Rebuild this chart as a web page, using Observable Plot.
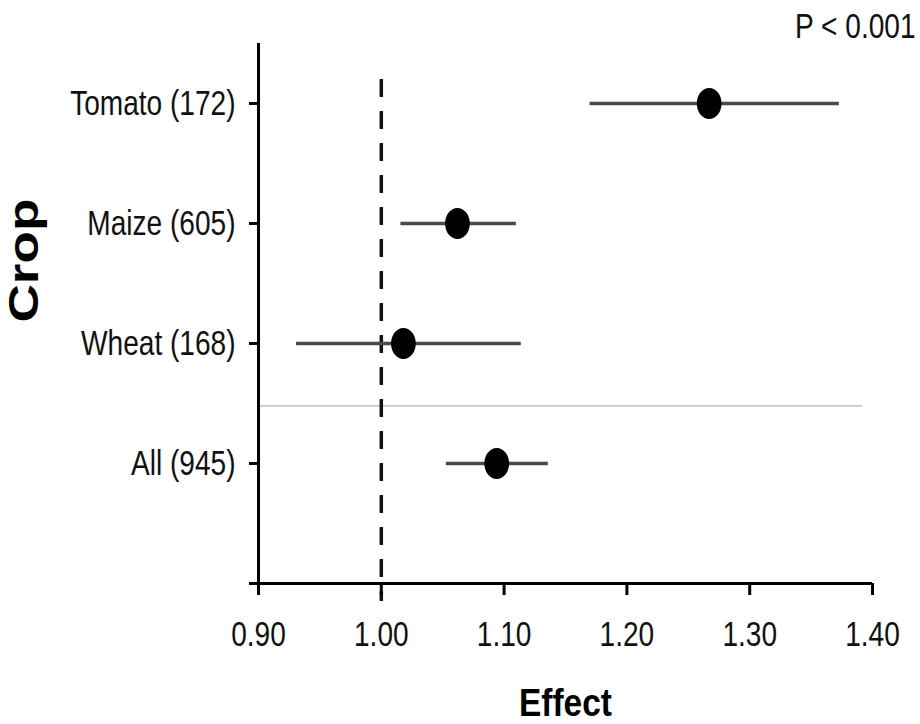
<!DOCTYPE html>
<html>
<head>
<meta charset="utf-8">
<script src="https://cdn.jsdelivr.net/npm/d3@7"></script>
<script src="https://cdn.jsdelivr.net/npm/@observablehq/plot@0.6"></script>
<style>
  html, body { margin: 0; padding: 0; background: #fff; }
  #chart svg { display: block; }
</style>
</head>
<body>
<div id="chart"></div>
<script>
// ---- data ----
const crops  = ["Tomato (172)", "Maize (605)", "Wheat (168)", "All (945)"];
const effect = [1.267, 1.062, 1.018, 1.094];
const lower  = [1.170, 1.016, 0.931, 1.053];
const upper  = [1.373, 1.110, 1.114, 1.136];
const xTicks = [0.90, 1.00, 1.10, 1.20, 1.30, 1.40];
const pLabel = "P < 0.001";
const xTitle = "Effect";
const yTitle = "Crop";

// rows: top crop gets highest slot; slot 0 is the empty bottom slot
const rows = crops.map((c, i) => ({
  crop: c, slot: crops.length - i,
  effect: effect[i], lower: lower[i], upper: upper[i]
}));
const yTicks = d3.range(0, crops.length + 1);
const yLabel = new Map(rows.map(d => [d.slot, d.crop]));

// ellipse symbol (slightly taller than wide)
const ellipse = {
  draw(ctx, size) {
    const ry = Math.sqrt(size / Math.PI), rx = ry * 0.8, k = 0.5523;
    ctx.moveTo(0, -ry);
    ctx.bezierCurveTo(k * rx, -ry, rx, -k * ry, rx, 0);
    ctx.bezierCurveTo(rx, k * ry, k * rx, ry, 0, ry);
    ctx.bezierCurveTo(-k * rx, ry, -rx, k * ry, -rx, 0);
    ctx.bezierCurveTo(-rx, -k * ry, -k * rx, -ry, 0, -ry);
    ctx.closePath();
  }
};

const font = "'Liberation Sans Narrow', 'Arial Narrow', 'Liberation Sans', Arial, sans-serif";

const chart = Plot.plot({
  width: 920,
  height: 724,
  marginLeft: 258,
  marginRight: 48,
  marginTop: 43,
  marginBottom: 141,
  style: { fontFamily: font, fontSize: "36px", color: "#111", background: "#fff" },
  x: { domain: [0.9, 1.4] },
  y: { domain: [0, crops.length + 0.5] },
  marks: [
    // separator between individual crops and overall
    Plot.ruleY([1.48], { x1: 0.9, x2: 1.392, stroke: "#c8c8c8", strokeWidth: 1.6 }),
    // reference line at 1
    Plot.ruleX([1.0], { y1: 4.2, y2: -0.15, stroke: "#111", strokeWidth: 3.5, strokeDasharray: "18,14" }),
    // confidence intervals
    Plot.ruleY(rows, { y: "slot", x1: "lower", x2: "upper", stroke: "#4a4a4a", strokeWidth: 3.5 }),
    // point estimates
    Plot.dot(rows, { x: "effect", y: "slot", r: 15.5, symbol: ellipse, fill: "#000", stroke: "none" }),
    // axis lines
    Plot.ruleX([0.9], { y1: 0, y2: crops.length + 0.5, stroke: "#000", strokeWidth: 3 }),
    Plot.ruleY([0], { x1: 0.9, x2: 1.4, stroke: "#000", strokeWidth: 3 }),
    Plot.axisX({
      ticks: xTicks, tickFormat: d3.format(".2f"), tickSize: 12, tickPadding: 25,
      strokeWidth: 3, stroke: "#000", label: null, fill: "#111"
    }),
    Plot.axisY({
      ticks: yTicks, tickFormat: d => yLabel.get(d) ?? "", tickSize: 9, tickPadding: 14,
      strokeWidth: 3, stroke: "#000", label: null, fill: "#111"
    }),
    // annotations and titles
    Plot.text([pLabel], { frameAnchor: "top-right", dx: 43, dy: -6, lineAnchor: "bottom", textAnchor: "end", fill: "#111" }),
    Plot.text([xTitle], { frameAnchor: "bottom", dy: 132, lineAnchor: "bottom", fontWeight: "bold", fontSize: 38, fill: "#000" }),
    Plot.text([yTitle], { frameAnchor: "left", dx: -234, dy: 9, rotate: -90, fontWeight: "bold", fontSize: 42, fontFamily: "'Liberation Sans', Arial, sans-serif", fill: "#000" })
  ]
});
document.getElementById("chart").appendChild(chart);

// condense/stretch text along its direction (about its anchor) to mimic the original typeface
d3.select(chart).selectAll("text").each(function () {
  const t = this.textContent.trim();
  if (!t) return;
  const len = this.getComputedTextLength();
  let k;
  if (t === xTitle) k = 93 / len;
  else if (t === yTitle) k = 124 / len;
  else k = 0.78;
  const T = this.getAttribute("transform") || "";
  const ax = +(this.getAttribute("x") || 0);
  this.setAttribute("transform", `${T} translate(${ax},0) scale(${k},1) translate(${-ax},0)`.trim());
});
</script>
</body>
</html>
